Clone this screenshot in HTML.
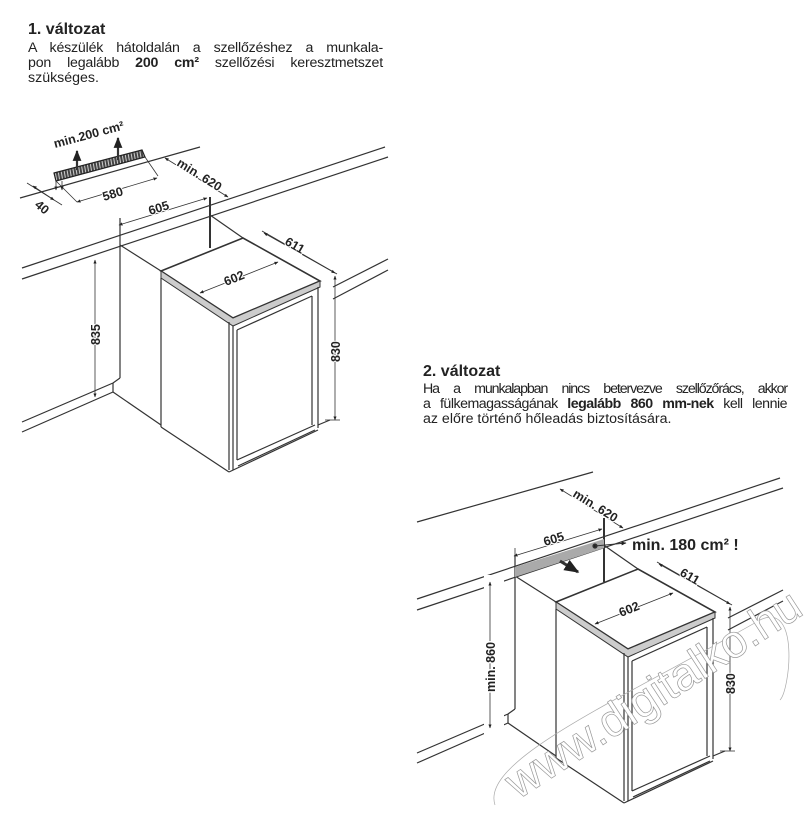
<!DOCTYPE html>
<html><head><meta charset="utf-8"><style>
body{margin:0;background:#fff;}
.wrap{position:relative;width:808px;height:824px;overflow:hidden;background:#fff;font-family:"Liberation Sans",Arial,sans-serif;color:#222;}
.l{position:absolute;font-size:14.2px;line-height:15px;white-space:nowrap;text-align:justify;text-align-last:justify;}
.l.e{text-align-last:left;}
.h{position:absolute;font-weight:bold;font-size:16px;line-height:16px;}
svg{position:absolute;left:0;top:0;}
</style></head><body><div class="wrap">
<div class="h" style="left:28px;top:22px;">1. változat</div>
<div class="l" style="left:28px;top:41px;width:355px;letter-spacing:-0.2px;">A készülék hátoldalán a szellőzéshez a munkala-</div>
<div class="l" style="left:28px;top:56px;width:355px;letter-spacing:-0.2px;">pon legalább <b>200 cm²</b> szellőzési keresztmetszet</div>
<div class="l e" style="left:28px;top:71px;width:355px;">szükséges.</div>
<div class="h" style="left:423px;top:364px;">2. változat</div>
<div class="l" style="left:423px;top:382px;width:364px;letter-spacing:-1.1px;">Ha a munkalapban nincs betervezve szellőzőrács, akkor</div>
<div class="l" style="left:423px;top:397px;width:364px;letter-spacing:-0.5px;">a fülkemagasságának <b>legalább 860 mm-nek</b> kell lennie</div>
<div class="l e" style="left:423px;top:412px;width:364px;">az előre történő hőleadás biztosítására.</div>

<svg width="808" height="824" viewBox="0 0 808 824" font-family="Liberation Sans, Arial, sans-serif">
<defs>
<marker id="a" viewBox="0 0 10 10" refX="9" refY="5" markerWidth="5" markerHeight="5" orient="auto-start-reverse"><path d="M0,1 L10,5 L0,9z" fill="#222"/></marker>
<pattern id="hat" width="3" height="6" patternUnits="userSpaceOnUse" patternTransform="rotate(-10)"><rect width="3" height="6" fill="#444"/><rect width="1" height="6" fill="#ccc"/></pattern>
<g id="base" stroke="#333" fill="none" stroke-width="1.2">
 <line x1="22" y1="268" x2="385" y2="147"/>
 <line x1="22" y1="279" x2="388" y2="157"/>
 <line x1="333" y1="287" x2="388" y2="259"/>
 <line x1="333" y1="299" x2="388" y2="270"/>
 <line x1="22" y1="422" x2="113" y2="383"/>
 <line x1="22" y1="432" x2="113" y2="392"/>
 <line x1="113" y1="383" x2="113" y2="392"/>
 <line x1="113" y1="383" x2="120" y2="378"/>
 <line x1="113" y1="392" x2="161" y2="425"/>
 <line x1="318" y1="425" x2="330" y2="420"/>
 <line x1="120" y1="245" x2="161" y2="271"/>
 <line x1="210" y1="215" x2="243" y2="238"/>
 <polygon points="161,271 243,238 320,281 233,318" fill="#fff" stroke-width="1.6"/>
 <polygon points="161,271 233,318 320,281 320,287 233,326 161,278" fill="#ccc" stroke-width="1"/>
 <line x1="161" y1="278" x2="161" y2="427"/>
 <line x1="229" y1="322" x2="229" y2="470"/>
 <line x1="233" y1="326" x2="233" y2="470"/>
 <line x1="318" y1="287" x2="318" y2="428"/>
 <line x1="237" y1="330" x2="237" y2="460"/>
 <line x1="237" y1="330" x2="312" y2="296"/>
 <line x1="237" y1="460" x2="315" y2="425"/>
 <line x1="312" y1="296" x2="312" y2="425"/>
 <line x1="161" y1="427" x2="229" y2="472"/>
 <line x1="229" y1="472" x2="318" y2="430"/>
 <line x1="238" y1="466" x2="315" y2="430"/>
 <line x1="262" y1="231" x2="337" y2="274" stroke-width="1"/>
 <line x1="264" y1="233" x2="335" y2="273" stroke-width="0.8" marker-start="url(#a)" marker-end="url(#a)"/>
 <line x1="200" y1="293" x2="278" y2="262" stroke-width="0.8" marker-start="url(#a)" marker-end="url(#a)"/>
 <line x1="335" y1="276" x2="335" y2="420" stroke-width="0.8" marker-start="url(#a)" marker-end="url(#a)"/>
 <line x1="325" y1="420" x2="340" y2="420" stroke-width="0.8"/>
 <line x1="165" y1="158" x2="228" y2="197" stroke-width="0.8" marker-start="url(#a)" marker-end="url(#a)"/>
 <line x1="119" y1="225" x2="207" y2="198" stroke-width="0.8" marker-start="url(#a)" marker-end="url(#a)"/>
 <line x1="95" y1="260" x2="95" y2="397" stroke-width="0.8" marker-start="url(#a)" marker-end="url(#a)"/>
</g>
</defs>

<use href="#base"/>
<g stroke="#333" fill="none" stroke-width="1.2">
 <line x1="20" y1="198" x2="200" y2="147"/>
 <line x1="120" y1="218" x2="120" y2="378"/>
 <line x1="210" y1="197" x2="210" y2="248" stroke-width="2"/>
 <polygon points="54,173 142,150 145,157 56,181" fill="url(#hat)" stroke="#222"/>
 <line x1="77" y1="170" x2="77" y2="151" stroke-width="2.2" marker-end="url(#a)"/>
 <line x1="118" y1="160" x2="118" y2="138" stroke-width="2.2" marker-end="url(#a)"/>
 <line x1="77" y1="202" x2="157" y2="178" stroke-width="0.8" marker-start="url(#a)" marker-end="url(#a)"/>
 <line x1="56" y1="181" x2="77" y2="202" stroke-width="0.8"/>
 <line x1="145" y1="157" x2="158" y2="176" stroke-width="0.8"/>
 <line x1="27" y1="183" x2="62" y2="205" stroke-width="0.8"/>
 <line x1="33" y1="186" x2="54" y2="200" stroke-width="0.8" marker-start="url(#a)" marker-end="url(#a)"/>
 <line x1="56" y1="181" x2="56" y2="190" stroke-width="0.8" marker-end="url(#a)"/>
 <line x1="62" y1="181" x2="62" y2="190" stroke-width="0.8" marker-end="url(#a)"/>
</g>
<g fill="#222" font-weight="bold" font-size="12.5" style="paint-order:stroke" stroke="#fff" stroke-width="2">
 <text transform="translate(55,148) rotate(-15)">min.200 cm²</text>
 <text transform="translate(104,201) rotate(-17)">580</text>
 <text transform="translate(34,206) rotate(40)">40</text>
 <text transform="translate(176,165) rotate(32)">min. 620</text>
 <text transform="translate(150,215) rotate(-17)">605</text>
 <text transform="translate(284,244) rotate(30)">611</text>
 <text transform="translate(226,286) rotate(-22)">602</text>
 <text transform="translate(100,345) rotate(-90)">835</text>
 <text transform="translate(340,362) rotate(-90)">830</text>
</g>

<g transform="translate(395,331)"><use href="#base"/></g>
<g stroke="#333" fill="none" stroke-width="1.2">
 <line x1="417" y1="522" x2="593" y2="472"/>
 <line x1="515" y1="555" x2="515" y2="709"/>
 <line x1="604" y1="518" x2="604" y2="582" stroke-width="2"/>
 <line x1="515" y1="548" x2="515" y2="560" stroke-width="0.8"/>
 <polygon points="515,567 604,539 604,548 515,577" fill="#aaa" stroke="none"/>
 <line x1="560" y1="561" x2="578" y2="572" stroke-width="3" marker-end="url(#a)"/>
 <circle cx="595" cy="546" r="2" fill="#222"/>
 <line x1="595" y1="546" x2="626" y2="543" stroke-width="1" marker-end="url(#a)"/>
</g>
<rect x="484" y="575" width="20" height="160" fill="#fff"/>
<g stroke="#333" fill="none">
 <line x1="490" y1="582" x2="490" y2="728" stroke-width="0.8" marker-start="url(#a)" marker-end="url(#a)"/>
</g>
<g fill="#222" font-weight="bold" font-size="12.5" style="paint-order:stroke" stroke="#fff" stroke-width="2">
 <text transform="translate(572,496) rotate(32)">min. 620</text>
 <text transform="translate(545,546) rotate(-17)">605</text>
 <text transform="translate(679,575) rotate(30)">611</text>
 <text transform="translate(621,617) rotate(-22)">602</text>
 <text transform="translate(495,692) rotate(-90)" stroke-width="3">min. 860</text>
 <text transform="translate(735,694) rotate(-90)">830</text>
 <text x="632" y="550" font-size="16" stroke="none">min. 180 cm² !</text>
</g>
<g fill="none" stroke="#aaa" stroke-width="0.7">
 <path d="M495,805 C480,760 620,700 760,620 C800,600 790,690 780,700"/>
 <text transform="translate(518,800) rotate(-33)" font-size="46" fill="#fff" stroke="#999" stroke-width="0.7" font-family="Liberation Sans, sans-serif">www.digitalko.hu</text>
</g>
</svg>
</div></body></html>
